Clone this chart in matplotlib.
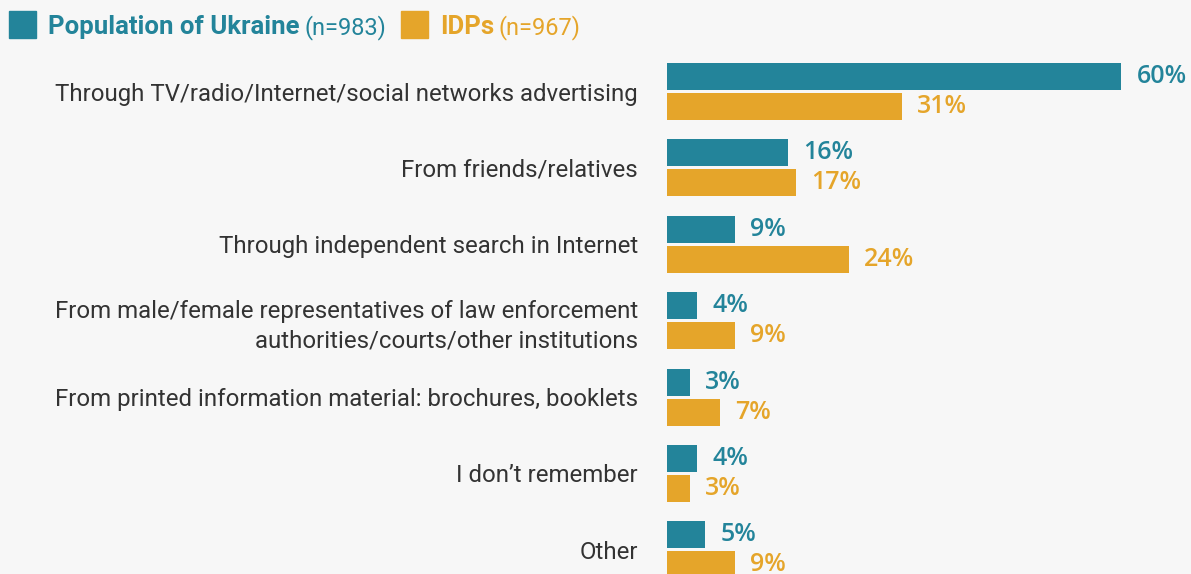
import matplotlib.pyplot as plt
import numpy as np

categories = ['Through TV/radio/Internet/social networks advertising',
              'From friends/relatives',
              'Through independent search in Internet',
              'From male/female representatives of law enforcement\nauthorities/courts/other institutions',
              'From printed information material: brochures, booklets',
              'I don\u2019t remember',
              'Other']
ukraine = [60, 16, 9, 4, 3, 4, 5]
idps = [31, 17, 24, 9, 7, 3, 9]

teal = '#23849a'
orange = '#e5a52a'
bg = '#f7f7f7'
txt = '#333333'

W, H = 1191, 574
fig = plt.figure(figsize=(11.91, 5.74), dpi=100, facecolor=bg)
ax = fig.add_axes([667 / W, 0, 1 - 667 / W, 1], facecolor=bg)

y = np.arange(len(categories))
h = 27 / 76.4
off = 15 / 76.4
ax.barh(y - off, ukraine, height=h, color=teal)
ax.barh(y + off, idps, height=h, color=orange)

for i in range(len(categories)):
    ax.annotate(f'{ukraine[i]}%', (ukraine[i], y[i] - off), xytext=(11, 0), textcoords='offset points',
                va='center', ha='left', color=teal, fontsize=18, fontweight='semibold', family='Open Sans')
    ax.annotate(f'{idps[i]}%', (idps[i], y[i] + off), xytext=(11, 0), textcoords='offset points',
                va='center', ha='left', color=orange, fontsize=18, fontweight='semibold', family='Open Sans')

ax.set_xlim(0, (W - 667) / 7.57)
ax.set_ylim((H - 91.5) / 76.4, -91.5 / 76.4)
ax.set_yticks(y)
ax.set_yticklabels(categories, fontsize=17.3, color=txt, family='Roboto', linespacing=1.35)
ax.tick_params(axis='y', length=0, pad=21)
ax.set_xticks([])
for s in ax.spines.values():
    s.set_visible(False)

# legend
base = 1 - 34 / H
for sx, c in [(9, teal), (401, orange)]:
    fig.patches.append(plt.Rectangle((sx / W, 1 - 38 / H), 27 / W, 27 / H,
                                     transform=fig.transFigure, color=c))
legend_items = [(48, 'Population of Ukraine', teal, 'bold', 18.5),
                (304, '(n=983)', teal, 'normal', 17),
                (440, 'IDPs', orange, 'bold', 18.5),
                (498, '(n=967)', orange, 'normal', 17)]
for lx, s, c, wgt, fs in legend_items:
    fig.text(lx / W, base, s, color=c, fontsize=fs, fontweight=wgt, family='Roboto', va='baseline')

fig.savefig('out.png', dpi=100, facecolor=bg)
